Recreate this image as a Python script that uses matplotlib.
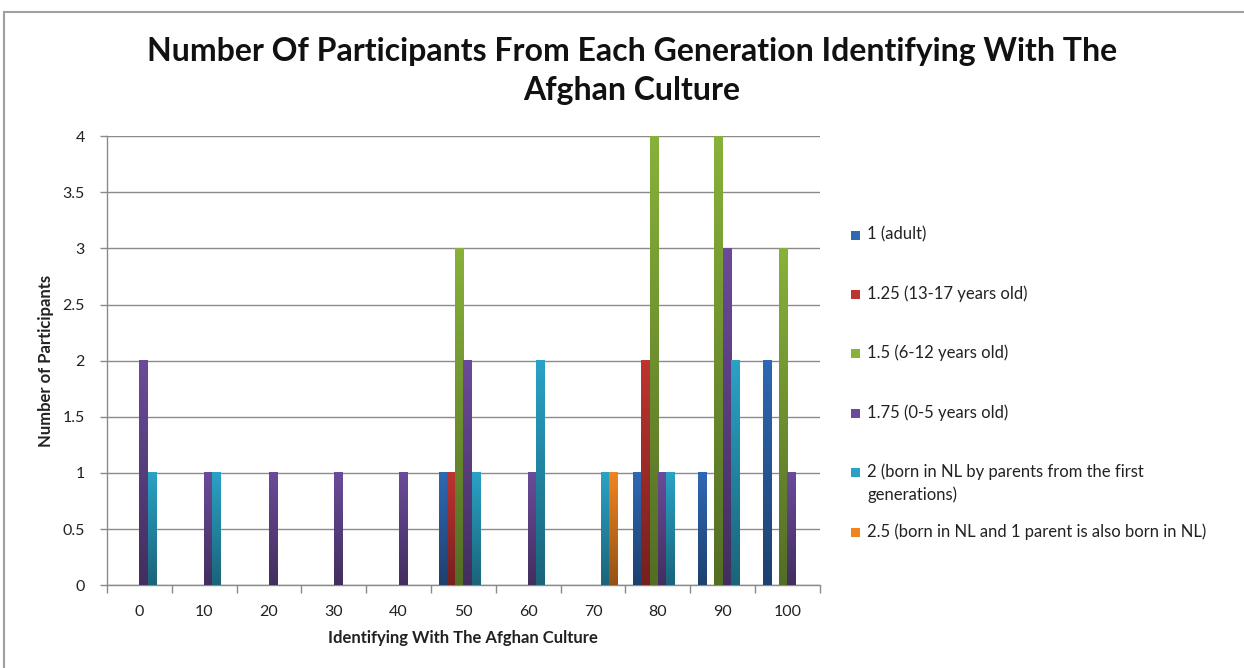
import matplotlib
matplotlib.use("Agg")
import matplotlib.pyplot as plt
import numpy as np
from matplotlib.colors import to_rgb
from matplotlib.patches import Rectangle

plt.rcParams['font.family'] = ['Lato', 'DejaVu Sans']

# Identification scores (x categories) and participant counts per generation
categories = ['0', '10', '20', '30', '40', '50', '60', '70', '80', '90', '100']
gen_labels = ['1 (adult)',
              '1.25 (13-17 years old)',
              '1.5 (6-12 years old)',
              '1.75 (0-5 years old)',
              '2 (born in NL by parents from the first\ngenerations)',
              '2.5 (born in NL and 1 parent is also born in NL)']
adult = [0, 0, 0, 0, 0, 1, 0, 0, 1, 1, 2]
teen = [0, 0, 0, 0, 0, 1, 0, 0, 2, 0, 0]
child = [0, 0, 0, 0, 0, 3, 0, 0, 4, 4, 3]
toddler = [2, 1, 1, 1, 1, 2, 1, 0, 1, 3, 1]
second_gen = [1, 1, 0, 0, 0, 1, 2, 1, 1, 2, 0]
third_gen = [0, 0, 0, 0, 0, 0, 0, 1, 0, 0, 0]
series = [adult, teen, child, toddler, second_gen, third_gen]
colors = ['#2f68b3', '#bd3431', '#87b13a', '#6b4b99', '#2aa2c5', '#f08420']

fig = plt.figure(figsize=(12.44, 6.68), dpi=100)
ax = fig.add_axes([0.086, 0.124, 0.573, 0.672])

x = np.arange(len(categories))
bw = 0.126
grey = '#8a8a8a'
txt = '#222222'

for i, (vals, col) in enumerate(zip(series, colors)):
    bars = ax.bar(x + (i - 2.5) * bw, vals, width=bw, align='center',
                  color=col, zorder=2)
    # shade each bar darker towards its base
    base = np.array(to_rgb(col))
    grad = np.linspace(0.62, 1.0, 64)[:, None, None] * base[None, None, :]
    for b in bars:
        if b.get_height() <= 0:
            continue
        x0 = b.get_x()
        ax.imshow(grad, extent=[x0, x0 + b.get_width(), 0, b.get_height()],
                  origin='lower', aspect='auto', zorder=3, interpolation='bilinear')

ax.set_xlim(-0.5, len(categories) - 0.5)
ax.set_ylim(0, 4)
ax.set_yticks(np.arange(0, 4.01, 0.5))
ax.set_yticklabels(['0', '0.5', '1', '1.5', '2', '2.5', '3', '3.5', '4'])
ax.set_xticks(x)
ax.set_xticklabels(categories)
ax.set_xticks(np.arange(-0.5, len(categories)), minor=True)

ax.tick_params(axis='x', which='major', length=0, pad=14, labelsize=11.5, colors=txt)
ax.tick_params(axis='x', which='minor', length=6, color=grey, width=1)
ax.tick_params(axis='y', length=5, color=grey, width=1, pad=11, labelsize=11.5,
               labelcolor=txt)

ax.yaxis.grid(True, color=grey, linewidth=1)
ax.set_axisbelow(True)
for s in ['top', 'right']:
    ax.spines[s].set_visible(False)
for s in ['left', 'bottom']:
    ax.spines[s].set_color(grey)
    ax.spines[s].set_linewidth(1)

ax.set_xlabel('Identifying With The Afghan Culture', fontsize=12,
              fontweight='bold', labelpad=8, color=txt)
ax.set_ylabel('Number of Participants', fontsize=12, fontweight='bold',
              labelpad=6, color=txt)

fig.text(0.508, 0.894, 'Number Of Participants From Each Generation Identifying With The\nAfghan Culture',
         ha='center', va='center', fontsize=23, fontweight='bold',
         linespacing=1.42, color='#111111')

# legend entries down the right side
for i, (lab, col) in enumerate(zip(gen_labels, colors)):
    yc = 1 - (235 + i * 59.4) / 668
    fig.patches.append(Rectangle((851 / 1244, yc - 4.5 / 668), 9 / 1244, 9 / 668,
                                 transform=fig.transFigure, facecolor=col,
                                 edgecolor='none'))
    fig.text(867 / 1244, yc + 9 / 668, lab, ha='left', va='top', fontsize=12,
             color=txt, linespacing=1.45)

# chart frame
fig.patches.append(Rectangle((4 / 1244, -0.05), 1.0, 1 - 12 / 668 + 0.05,
                             transform=fig.transFigure, fill=False,
                             edgecolor='#a0a0a0', linewidth=1.5))

fig.savefig('out.png', dpi=100)
